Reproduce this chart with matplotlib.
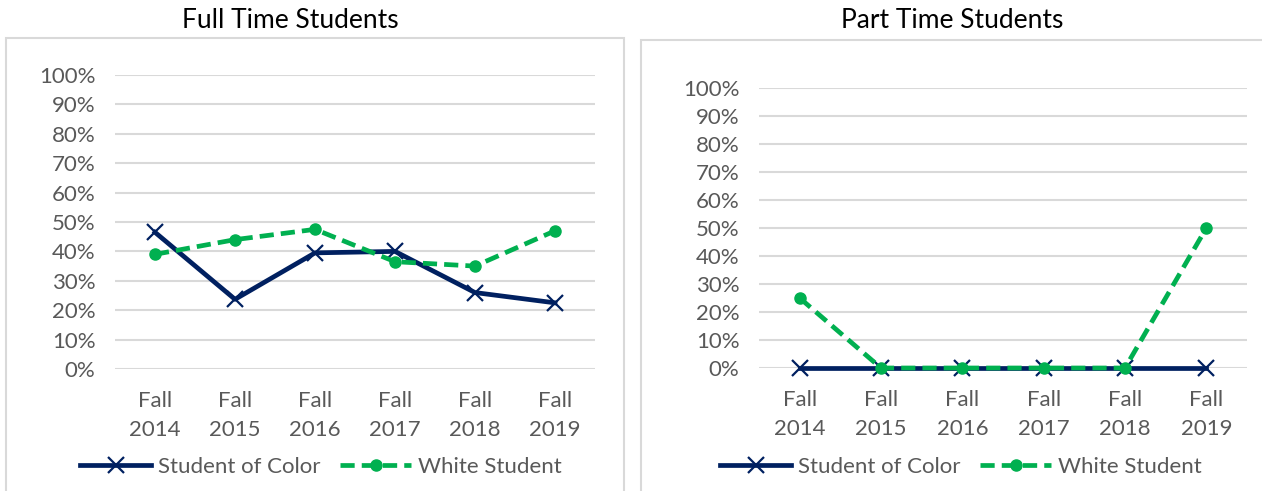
import matplotlib.pyplot as plt
from matplotlib.patches import Rectangle
from matplotlib.ticker import PercentFormatter

# %%
terms = ['Fall\n2014', 'Fall\n2015', 'Fall\n2016', 'Fall\n2017', 'Fall\n2018', 'Fall\n2019']

full_color = [0.465, 0.237, 0.395, 0.40, 0.26, 0.225]
full_white = [0.39, 0.44, 0.475, 0.365, 0.35, 0.47]

part_color = [0, 0, 0, 0, 0, 0]
part_white = [0.25, 0, 0, 0, 0, 0.50]

NAVY = '#002060'
GREEN = '#00B050'
GRID = '#D9D9D9'
TXT = '#595959'

plt.rcParams['font.family'] = ['Lato', 'DejaVu Sans']

# %%

def draw_panel(ax, color_vals, white_vals, legend_x):
    """Um painel no estilo Excel"""
    x = range(len(terms))
    ax.plot(x, color_vals, color=NAVY, linewidth=3.4, marker='x', markersize=11,
            markeredgewidth=1.6, label='Student of Color', clip_on=False, zorder=3)
    ax.plot(x, white_vals, color=GREEN, linewidth=3.4, linestyle=(0, (3.0, 1.5)),
            marker='o', markersize=8, label='White Student', clip_on=False, zorder=4)

    ax.set_ylim(0, 1)
    ax.set_xlim(-0.5, len(terms) - 0.5)
    ax.set_yticks([i / 10 for i in range(11)])
    ax.yaxis.set_major_formatter(PercentFormatter(1.0, decimals=0))
    ax.set_xticks(list(x))
    ax.set_xticklabels(terms, linespacing=1.55)
    ax.tick_params(length=0, labelsize=16, labelcolor=TXT)
    ax.tick_params(axis='x', pad=16)
    ax.tick_params(axis='y', pad=14)
    ax.grid(axis='y', color=GRID, linewidth=1.5)
    ax.set_axisbelow(True)
    for s in ax.spines.values():
        s.set_visible(False)

    ax.legend(loc='center', bbox_to_anchor=(legend_x, 0.049), bbox_transform=fig.transFigure,
              ncol=2, frameon=False, fontsize=16, labelcolor=TXT, handlelength=3.2,
              columnspacing=0.9, handletextpad=0.3)


fig = plt.figure(figsize=(12.62, 4.91), dpi=100)

# molduras dos graficos
fig.patches.append(Rectangle((6 / 1262, -0.05), 618 / 1262, 1 - 38 / 491 + 0.05,
                             transform=fig.transFigure, fill=False, edgecolor=GRID, linewidth=1.5))
fig.patches.append(Rectangle((641 / 1262, -0.05), 0.5, 1 - 40 / 491 + 0.05,
                             transform=fig.transFigure, fill=False, edgecolor=GRID, linewidth=1.5))

ax1 = fig.add_axes([115 / 1262, 1 - 369 / 491, 480 / 1262, 294 / 491])
draw_panel(ax1, full_color, full_white, 321 / 1262)

ax2 = fig.add_axes([759 / 1262, 1 - 368 / 491, 488 / 1262, 280 / 491])
draw_panel(ax2, part_color, part_white, 961 / 1262)

fig.text(290 / 1262, 1 - 21 / 491, 'Full Time Students', ha='center', va='center', fontsize=19)
fig.text(952 / 1262, 1 - 21 / 491, 'Part Time Students', ha='center', va='center', fontsize=19)

plt.savefig('out.png', dpi=100)
